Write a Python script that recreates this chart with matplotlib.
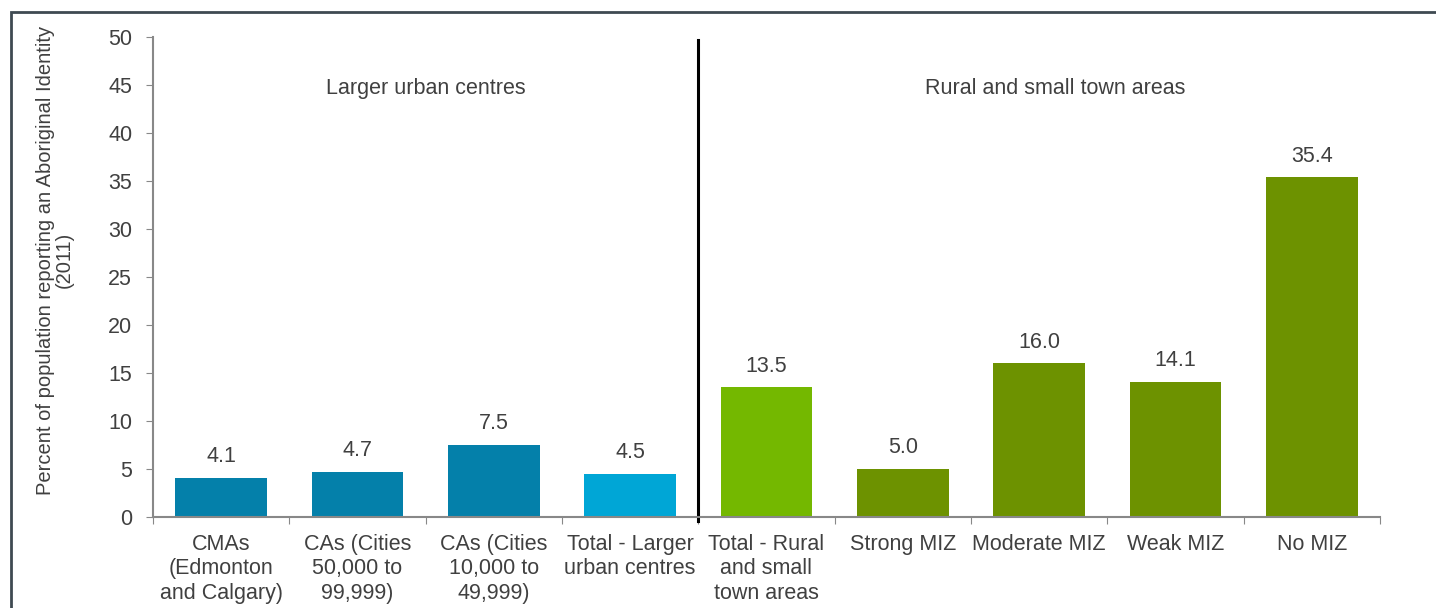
import numpy as np
import matplotlib
matplotlib.use("Agg")
import matplotlib.pyplot as plt
from matplotlib.patches import Rectangle

plt.rcParams['font.family'] = ['Liberation Sans', 'DejaVu Sans']

categories = ["CMAs\n(Edmonton\nand Calgary)", "CAs (Cities\n50,000 to\n99,999)",
              "CAs (Cities\n10,000 to\n49,999)", "Total - Larger\nurban centres",
              "Total - Rural\nand small\ntown areas", "Strong MIZ", "Moderate MIZ",
              "Weak MIZ", "No MIZ"]
values = [4.1, 4.7, 7.5, 4.5, 13.5, 5.0, 16.0, 14.1, 35.4]
colors = ["#0480AA", "#0480AA", "#0480AA", "#00A6D6",
          "#74B800", "#6D9200", "#6D9200", "#6D9200", "#6D9200"]
group_labels = ["Larger urban centres", "Rural and small town areas"]

txt = "#404040"
axc = "#888888"
fs = 15.5

fig = plt.figure(figsize=(14.36, 6.08), dpi=100)
ax = fig.add_axes([153 / 1436, 1 - 517 / 608, (1380 - 153) / 1436, 480 / 608])

x = np.arange(len(values))
ax.bar(x, values, width=0.67, color=colors)
for xi, v in zip(x, values):
    ax.text(xi, v + 1.1, f"{v:.1f}", ha="center", va="bottom", fontsize=fs, color=txt)

ax.set_xlim(-0.5, len(values) - 0.5)
ax.set_ylim(0, 50)
ax.set_yticks(range(0, 51, 5))
ax.set_xticks(np.arange(-0.5, len(values)), minor=False)
ax.set_xticklabels([])
ax.set_xticks(x, minor=True)
ax.set_xticklabels(categories, minor=True, fontsize=fs, color=txt, linespacing=1.22)
ax.tick_params(axis="x", which="minor", length=0, pad=12)
ax.tick_params(axis="x", which="major", length=5, color=axc)
ax.tick_params(axis="y", length=5, color=axc, labelsize=fs, labelcolor=txt, pad=10)

for s in ["top", "right"]:
    ax.spines[s].set_visible(False)
for s in ["left", "bottom"]:
    ax.spines[s].set_color(axc)
    ax.spines[s].set_linewidth(1.5)

fig.text(55 / 1436, 1 - 260 / 608,
         "Percent of population reporting an Aboriginal Identity\n(2011)",
         rotation=90, ha="center", va="center", fontsize=14.5, color=txt,
         linespacing=0.95, multialignment="center")

# divider between the two groups
ax.plot([3.5, 3.5], [-0.4, 49.7], color="black", lw=2.2, clip_on=False)

ax.text(1.5, 44.6, group_labels[0], ha="center", va="center", fontsize=fs, color=txt)
ax.text(6.12, 44.6, group_labels[1], ha="center", va="center", fontsize=fs, color=txt)

# outer frame
fig.patches.append(Rectangle((11 / 1436, -0.1), 1.2, 1 - 12 / 608 + 0.1,
                             transform=fig.transFigure, fill=False,
                             edgecolor="#3F4A52", lw=2))

fig.savefig("out.png", dpi=100)
